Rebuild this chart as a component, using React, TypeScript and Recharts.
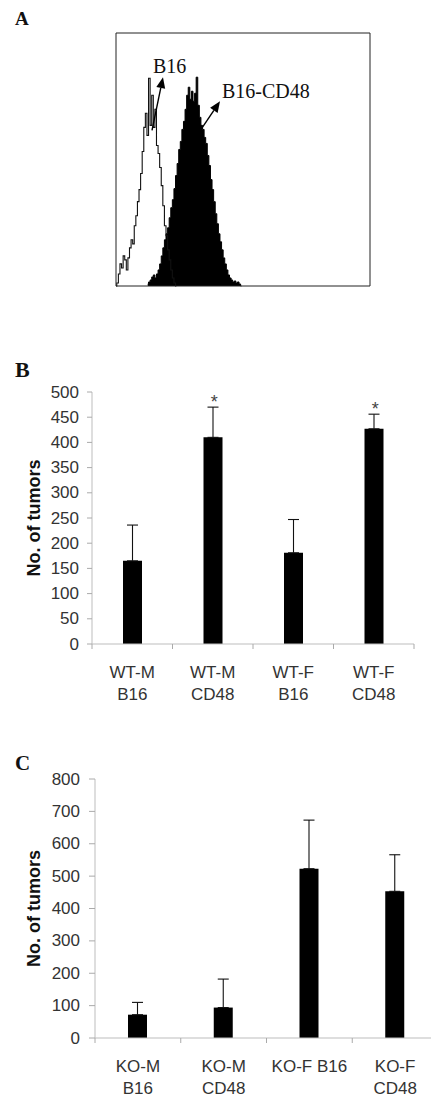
import React from 'react'
import {
  ComposedChart, Bar, ErrorBar, Line, Area, XAxis, YAxis,
  ReferenceLine, ReferenceDot,
} from 'recharts'

// Panel A: flow histogram, bins of 0.025 log decades
const BIN = 0.025
const B16_COUNTS = [
  0, 3, 12, 22, 18, 30, 26, 16, 28, 38, 46, 42, 60, 70, 84, 96, 112, 134, 158, 172,
  150, 207, 160, 190, 158, 176, 140, 132, 118, 100, 80, 60, 50, 36, 26, 16, 8, 3, 0,
]
const CD48_START = 20
const CD48_COUNTS = [
  2, 4, 6, 9, 11, 8, 12, 16, 22, 30, 38, 46, 52, 58, 68, 78, 86, 97, 110, 122,
  136, 144, 156, 164, 176, 190, 198, 186, 194, 184, 192, 208, 180, 168, 160, 156, 148, 142, 130, 120,
  106, 96, 84, 72, 62, 52, 44, 36, 28, 22, 16, 11, 8, 6, 4, 5, 3, 4, 2, 0,
]
const A_X_TICKS = [
  0, 0.3, 0.48, 0.6, 0.7, 0.78, 0.85, 0.9, 0.95,
  1, 1.3, 1.48, 1.6, 1.7, 1.78, 1.85, 1.9, 1.95,
  2, 2.3, 2.48, 2.6, 2.7, 2.78, 2.85, 2.9, 2.95,
  3, 3.3, 3.48, 3.6, 3.7, 3.78, 3.85, 3.9, 3.95, 4,
]
const A_Y_TICKS = [0, 63, 126, 189, 252]

// Panel B
const B_CATEGORIES = ['WT-M\nB16', 'WT-M\nCD48', 'WT-F\nB16', 'WT-F\nCD48']
const B_MEANS = [165, 410, 181, 427]
const B_ERRORS = [71, 60, 66, 29]
const B_MARKS = ['', '*', '', '*']
const B_TICKS = [0, 50, 100, 150, 200, 250, 300, 350, 400, 450, 500]

// Panel C
const C_CATEGORIES = ['KO-M\nB16', 'KO-M\nCD48', 'KO-F B16', 'KO-F\nCD48']
const C_MEANS = [72, 94, 523, 453]
const C_ERRORS = [38, 88, 150, 113]
const C_TICKS = [0, 100, 200, 300, 400, 500, 600, 700, 800]

const SANS = '"Liberation Sans", Arial, sans-serif'
const SERIF = '"Liberation Serif", "Times New Roman", serif'
const AXIS_GREY = '#bdbdbd'

const histData = Array.from({ length: CD48_START + CD48_COUNTS.length }, (_, i) => ({
  x: i * BIN,
  b16: i < B16_COUNTS.length ? B16_COUNTS[i] : null,
  cd48: i >= CD48_START ? CD48_COUNTS[i - CD48_START] : null,
}))

const makeBars = (cats: string[], means: number[], errs: number[], marks?: string[]) =>
  cats.map((name, i) => ({
    name,
    mean: means[i],
    err: [0, errs[i]],
    top: means[i] + errs[i],
    mark: marks ? marks[i] : '',
  }))

const bData = makeBars(B_CATEGORIES, B_MEANS, B_ERRORS, B_MARKS)
const cData = makeBars(C_CATEGORIES, C_MEANS, C_ERRORS)

function Arrow(props: any) {
  const { x1, y1, x2, y2 } = props
  const a = Math.atan2(y2 - y1, x2 - x1)
  const len = 11
  const half = 4.5
  const bx = x2 - len * Math.cos(a)
  const by = y2 - len * Math.sin(a)
  const px = -Math.sin(a) * half
  const py = Math.cos(a) * half
  return (
    <g>
      <line x1={x1} y1={y1} x2={bx} y2={by} stroke="#000" strokeWidth={1.4} />
      <polygon points={`${x2},${y2} ${bx + px},${by + py} ${bx - px},${by - py}`} fill="#000" />
    </g>
  )
}

const annot = (text: string) => (p: any) => (
  <text x={p.cx} y={p.cy} fontFamily={SERIF} fontSize={20} fill="#111">{text}</text>
)

function CatTick(props: any) {
  const { x, y, payload, index, halfBand, count } = props
  const lines = String(payload.value).split('\n')
  const axisY = y - 6
  return (
    <g>
      <line x1={x - halfBand} y1={axisY} x2={x - halfBand} y2={axisY + 5} stroke="#aaa" />
      {index === count - 1 && (
        <line x1={x + halfBand} y1={axisY} x2={x + halfBand} y2={axisY + 5} stroke="#aaa" />
      )}
      <text x={x} y={y} textAnchor="middle" fontFamily={SANS} fontSize={17} fill="#333">
        {lines.map((l, i) => (
          <tspan key={i} x={x} dy={i === 0 ? 28 : 22}>{l}</tspan>
        ))}
      </text>
    </g>
  )
}

function NumTick(props: any) {
  const { x, y, payload } = props
  return (
    <text x={x} y={y} textAnchor="end" dominantBaseline="central"
      fontFamily={SANS} fontSize={17} fill="#333">{payload.value}</text>
  )
}

const yLabel = (p: any) => {
  const vb = p.viewBox
  const cx = 34
  const cy = vb.y + vb.height / 2
  return (
    <text x={cx} y={cy} transform={`rotate(-90 ${cx} ${cy})`} textAnchor="middle"
      dominantBaseline="central" fontFamily={SANS} fontWeight="bold" fontSize={18} fill="#111">
      No. of tumors
    </text>
  )
}

const starDot = (p: any) => {
  if (!p.payload || !p.payload.mark) return <g key={p.index} />
  return (
    <text key={p.index} x={p.cx + 1.5} y={p.cy + 1} textAnchor="middle"
      fontFamily={SANS} fontSize={18} fill="#444">{p.payload.mark}</text>
  )
}

function BarPanel({ data, width, height, margin, yWidth, ticks, tickSize, tickMargin }: any) {
  const plotW = width - margin.left - margin.right - yWidth
  const halfBand = plotW / data.length / 2
  return (
    <ComposedChart width={width} height={height} data={data} margin={margin}>
      <XAxis
        dataKey="name"
        height={60}
        tickLine={false}
        tickSize={6}
        tickMargin={0}
        interval={0}
        axisLine={{ stroke: AXIS_GREY }}
        tick={(p: any) => <CatTick {...p} halfBand={halfBand} count={data.length} />}
      />
      <YAxis
        width={yWidth}
        domain={[ticks[0], ticks[ticks.length - 1]]}
        ticks={ticks}
        interval={0}
        tickSize={tickSize}
        tickMargin={tickMargin}
        axisLine={{ stroke: AXIS_GREY }}
        tickLine={{ stroke: '#aaa' }}
        tick={(p: any) => <NumTick {...p} />}
        label={yLabel}
      />
      <Bar dataKey="mean" fill="#000" barSize={19} isAnimationActive={false}>
        <ErrorBar dataKey="err" direction="y" width={5.5} stroke="#111" strokeWidth={1.1} />
      </Bar>
      <Line dataKey="top" stroke="none" dot={starDot} activeDot={false} isAnimationActive={false} />
    </ComposedChart>
  )
}

export default function App() {
  return (
    <div style={{ position: 'absolute', left: 0, top: 0, width: 431, height: 1098, overflow: 'hidden', background: '#fff' }}>
      <svg width={431} height={1098} style={{ position: 'absolute', left: 0, top: 0 }}>
        <text x={15} y={25} fontFamily={SERIF} fontWeight="bold" fontSize={19} fill="#111">A</text>
        <text x={15} y={377} fontFamily={SERIF} fontWeight="bold" fontSize={22} fill="#111">B</text>
        <text x={15} y={770} fontFamily={SERIF} fontWeight="bold" fontSize={21} fill="#111">C</text>
      </svg>

      <div style={{ position: 'absolute', left: 0, top: 0 }}>
        <ComposedChart width={431} height={300} data={histData} margin={{ top: 32, right: 60, bottom: 14, left: 0 }}>
          <XAxis dataKey="x" type="number" domain={[0, 4]} ticks={A_X_TICKS} interval={0}
            height={1} mirror tick={false} tickSize={3}
            axisLine={{ stroke: '#222' }} tickLine={{ stroke: '#444' }} />
          <XAxis xAxisId="top" orientation="top" type="number" domain={[0, 4]} height={1}
            tick={false} tickLine={false} axisLine={{ stroke: '#222' }} />
          <YAxis type="number" domain={[0, 252]} ticks={A_Y_TICKS} interval={0} width={116}
            tick={false} tickSize={3} axisLine={{ stroke: '#222' }} tickLine={{ stroke: '#444' }} />
          <YAxis yAxisId="right" orientation="right" type="number" domain={[0, 252]} width={1}
            tick={false} tickLine={false} axisLine={{ stroke: '#222' }} />
          <Line dataKey="b16" type="step" stroke="#111" strokeWidth={1.1} dot={false}
            activeDot={false} isAnimationActive={false} />
          <Area dataKey="cd48" type="step" stroke="#000" fill="#000" fillOpacity={1}
            activeDot={false} isAnimationActive={false} />
          <ReferenceLine segment={[{ x: 0.567, y: 155 }, { x: 0.74, y: 208 }]} shape={Arrow} />
          <ReferenceLine segment={[{ x: 1.35, y: 157 }, { x: 1.638, y: 184 }]} shape={Arrow} />
          <ReferenceDot x={0.583} y={212} r={1} shape={annot('B16')} />
          <ReferenceDot x={1.669} y={187} r={1} shape={annot('B16-CD48')} />
        </ComposedChart>
      </div>

      <div style={{ position: 'absolute', left: 0, top: 380 }}>
        <BarPanel data={bData} width={431} height={324}
          margin={{ top: 12, right: 17, bottom: 0, left: 0 }}
          yWidth={92} ticks={B_TICKS} tickSize={5} tickMargin={8} />
      </div>

      <div style={{ position: 'absolute', left: 0, top: 760 }}>
        <BarPanel data={cData} width={440} height={338}
          margin={{ top: 19, right: 2, bottom: 0, left: 0 }}
          yWidth={95} ticks={C_TICKS} tickSize={6} tickMargin={9} />
      </div>
    </div>
  )
}
